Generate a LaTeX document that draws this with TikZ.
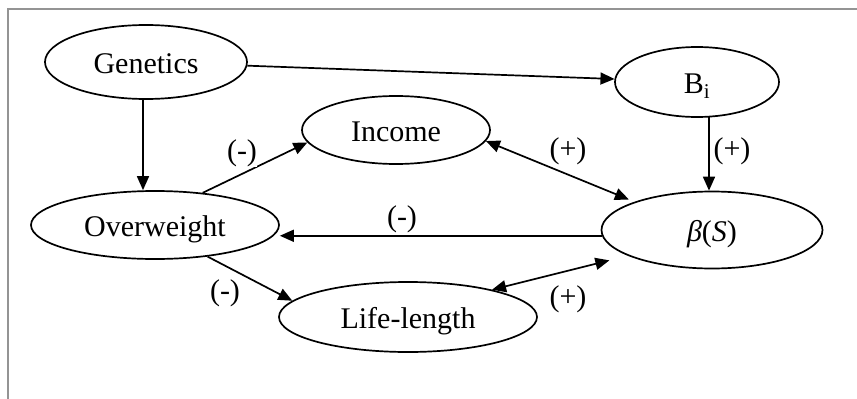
\documentclass[tikz,border=0pt]{standalone}
\usepackage{fontspec}
\setmainfont{Liberation Serif}
\usetikzlibrary{shapes.geometric,arrows.meta,calc}
\begin{document}
\begin{tikzpicture}[x=1pt,y=-1pt,
  oval/.style={ellipse, draw, line width=1.7pt, inner sep=0pt, font=\fontsize{30}{36}\selectfont, text height=22pt, text depth=0pt},
  lbl/.style={fill=white, inner sep=0.5pt, font=\fontsize{30}{36}\selectfont},
  arr/.style={line width=1.7pt, -{Triangle[length=14pt,width=12pt]}},
  barr/.style={line width=1.7pt, {Triangle[length=14pt,width=12pt]}-{Triangle[length=14pt,width=12pt]}}]
\useasboundingbox (0,0) rectangle (857,399);
\draw[black!42, line width=2pt] (8,399) -- (8,9) -- (857,9);
% nodes
\node[oval, minimum width=202pt, minimum height=74pt] (gen) at (146,62) {Genetics};
\node[oval, minimum width=188pt, minimum height=68pt] (inc) at (396,130) {Income};
\node[oval, minimum width=164pt, minimum height=70pt] (bi) at (697,82) {B\textsubscript{i}};
\node[oval, minimum width=248pt, minimum height=68pt] (ow) at (155,225) {Overweight};
\node[oval, minimum width=221pt, minimum height=77pt] (beta) at (712,230) {\textit{β}(\textit{S})};
\node[oval, minimum width=258pt, minimum height=70pt] (life) at (408,317) {Life-length};
\coordinate (g1) at ($(gen.south)+(-3,0)$);
\coordinate (b1) at ($(bi.south)+(12,-1)$);
% connectors
\draw[arr] (gen) -- (bi);
\draw[arr] (g1) -- (g1 |- ow.north);
\draw[arr] (b1) -- (b1 |- beta.north);
\draw[arr] (beta.183) -- (beta.183 -| ow.east);
\draw[arr] (ow.34) -- (inc.188);
\draw[arr] (ow.-31) -- (life.172);
\draw[barr, shorten >=6pt] (inc.-7) -- (beta.160);
\draw[barr, shorten >=19pt] (life.18) -- (beta.197);
% labels
\node[lbl] (l1) at (242,153) {(-)};
\node[lbl] (l2) at (568,151) {(+)};
\node[lbl] (l3) at (732,151) {(+)};
\node[lbl] (l4) at (402,219) {(-)};
\node[lbl] (l5) at (225,293) {(-)};
\node[lbl] (l6) at (568,299) {(+)};
\end{tikzpicture}
\end{document}
